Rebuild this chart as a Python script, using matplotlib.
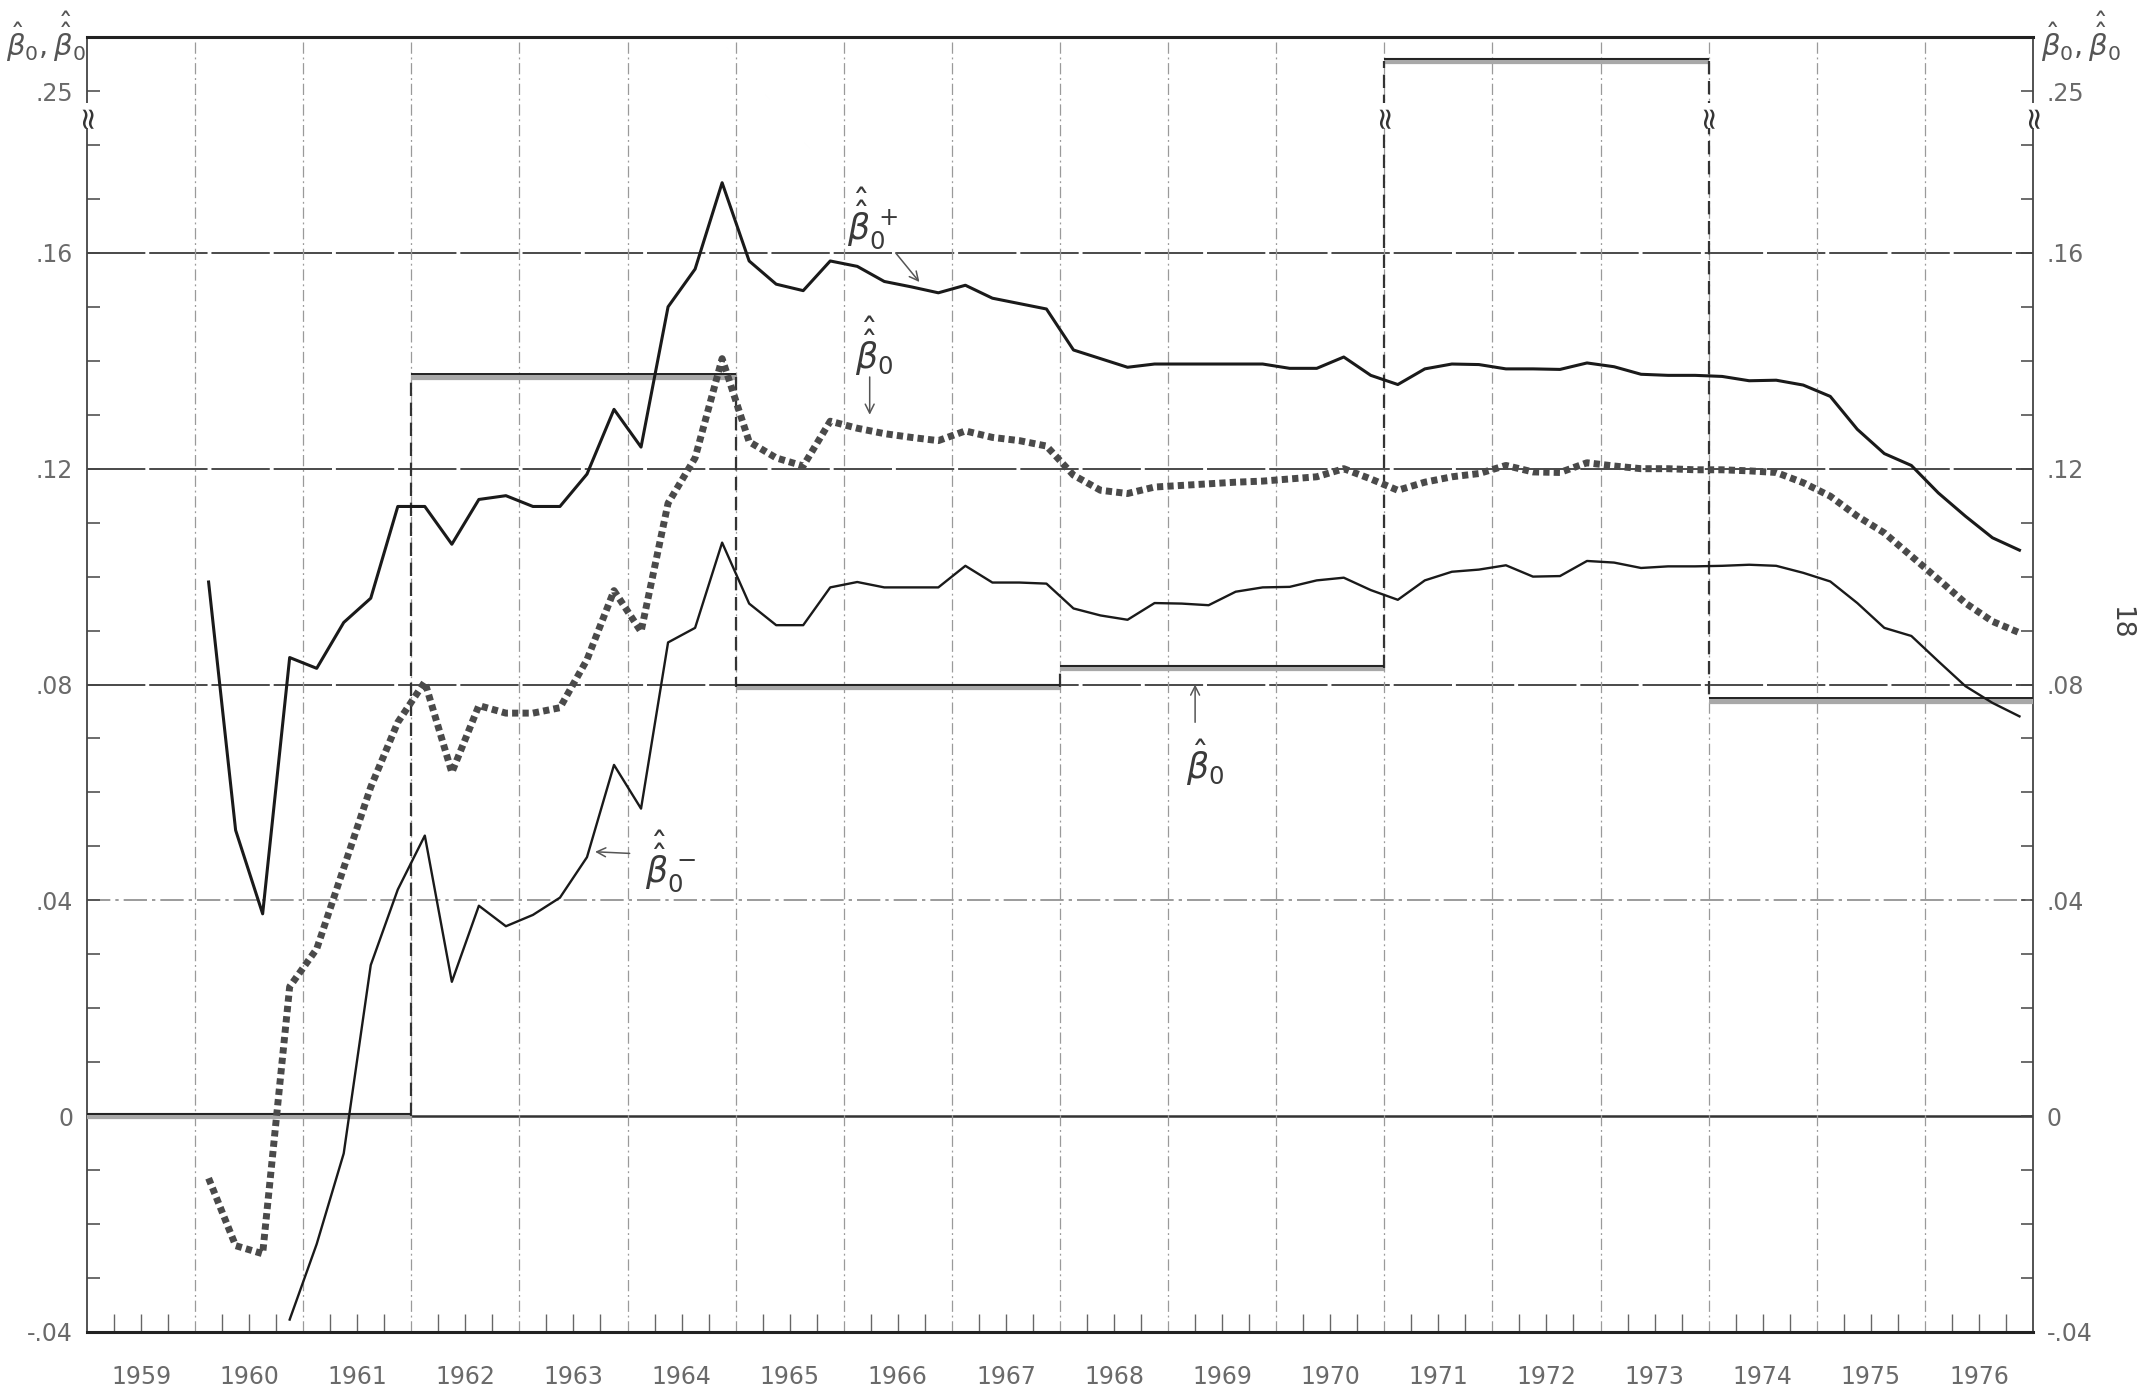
import numpy as np
import matplotlib
matplotlib.use("Agg")
import matplotlib.pyplot as plt
import matplotlib.transforms as mtransforms
from matplotlib.ticker import FixedLocator, NullFormatter

plt.rcParams['font.family'] = ['DejaVu Sans']
plt.rcParams['mathtext.fontset'] = 'dejavusans'

# ---------------- data ----------------
years = np.arange(1960, 1977)               # quarterly observations 1960Q1 .. 1976Q4
year_labels = [str(y) for y in range(1959, 1977)]

beta_plus = [0.099, 0.053, 0.0375, 0.085,
             0.083, 0.0915, 0.096, 0.113,
             0.113, 0.106, 0.1143, 0.115,
             0.113, 0.113, 0.119, 0.131,
             0.124, 0.150, 0.157, 0.173,
             0.1585, 0.1542, 0.153, 0.1585,
             0.1575, 0.1547, 0.1537, 0.1526,
             0.154, 0.1516, 0.1506, 0.1496,
             0.142, 0.1404, 0.1388, 0.1394,
             0.1394, 0.1394, 0.1394, 0.1394,
             0.1386, 0.1386, 0.1407, 0.1373,
             0.1356, 0.1385, 0.1394, 0.1393,
             0.1385, 0.1385, 0.1384, 0.1396,
             0.1389, 0.1375, 0.1373, 0.1373,
             0.1371, 0.1363, 0.1364, 0.1355,
             0.1334, 0.1273, 0.1228, 0.1206,
             0.1155, 0.1112, 0.1072, 0.1049]

beta_hh = [-0.0115, -0.024, -0.0255, 0.024,
           0.031, 0.046, 0.061, 0.073,
           0.0805, 0.0637, 0.0761, 0.0747,
           0.0747, 0.0757, 0.0846, 0.0974,
           0.0898, 0.1136, 0.122, 0.1404,
           0.125, 0.122, 0.1205, 0.1288,
           0.1275, 0.1265, 0.1258, 0.1252,
           0.127, 0.1258, 0.1252, 0.1242,
           0.1188, 0.116, 0.1154, 0.1166,
           0.1169, 0.1172, 0.1175, 0.1177,
           0.1181, 0.1185, 0.120, 0.1181,
           0.116, 0.1175, 0.1185, 0.1191,
           0.1206, 0.1194, 0.1193, 0.1211,
           0.1205, 0.120, 0.120, 0.1198,
           0.1198, 0.1196, 0.1193, 0.1174,
           0.1149, 0.1112, 0.1081, 0.1038,
           0.0995, 0.0951, 0.0917, 0.0896]

beta_minus = [np.nan, np.nan, np.nan, -0.0377,
              -0.0237, -0.0069, 0.028, 0.042,
              0.052, 0.0249, 0.039, 0.0352,
              0.0373, 0.0405, 0.048, 0.0651,
              0.057, 0.0878, 0.0905, 0.1063,
              0.095, 0.091, 0.091, 0.098,
              0.099, 0.098, 0.098, 0.098,
              0.102, 0.0989, 0.0989, 0.0987,
              0.0941, 0.0928, 0.092, 0.0951,
              0.095, 0.0947, 0.0972, 0.098,
              0.0981, 0.0993, 0.0998, 0.0975,
              0.0957, 0.0993, 0.1009, 0.1013,
              0.1021, 0.100, 0.1001, 0.1029,
              0.1026, 0.1016, 0.1019, 0.1019,
              0.102, 0.1022, 0.102, 0.1007,
              0.0991, 0.0951, 0.0905, 0.089,
              0.0843, 0.0797, 0.0766, 0.0741]

step_start = [1959, 1962, 1965, 1968, 1971, 1974]
step_end = [1962, 1965, 1968, 1971, 1974, 1977]
step_val = [0.0, 0.137, 0.0795, 0.083, 0.261, 0.077]   # 1971-73 value lies beyond the axis break

ytick_vals = [-0.04, 0.0, 0.04, 0.08, 0.12, 0.16, 0.25]
ytick_text = ['-.04', '0', '.04', '.08', '.12', '.16', '.25']
break_val = 0.218

t = (years[:, None] + (np.arange(4) + 0.5) / 4.0).ravel()

# ---------------- broken y scale ----------------
def fwd(v):
    v = np.asarray(v, dtype=float)
    return np.where(v <= 0.18, v,
                    np.where(v <= 0.25, 0.18 + (v - 0.18) / 7.0, 0.19 + (v - 0.25) * 0.5))

def inv(u):
    u = np.asarray(u, dtype=float)
    return np.where(u <= 0.18, u,
                    np.where(u <= 0.19, 0.18 + (u - 0.18) * 7.0, 0.25 + (u - 0.19) * 2.0))

# ---------------- figure ----------------
fig = plt.figure(figsize=(21.42, 13.93), dpi=100)
ax = fig.add_axes([0.0406, 0.0438, 0.9085, 0.9296])
ax.set_yscale('function', functions=(fwd, inv))
ax.set_xlim(1959, 1977)
ax.set_ylim(-0.04, 0.27)

tick_col = '#6a6a6a'
# horizontal grid
for v in ytick_vals[1:6]:
    if v == 0:
        ax.axhline(v, color='#333333', lw=1.8, zorder=1)
    elif v == 0.04:
        ax.axhline(v, color='#8a8a8a', lw=1.2, dashes=(14, 3, 2, 3), zorder=1)
    else:
        ax.axhline(v, color='#4a4a4a', lw=1.4, dashes=(30, 2), zorder=1)
# vertical grid at year boundaries
for yb in range(1960, 1977):
    ax.axvline(yb, color='#9a9a9a', lw=0.9, dashes=(9, 3, 1.5, 3), zorder=1)

# step function (beta-hat): double line
off = mtransforms.offset_copy(ax.transData, fig=fig, x=0, y=1.8, units='points')
ax.hlines(step_val, step_start, step_end, color='#a8a8a8', lw=4.5, zorder=3)
ax.hlines(step_val, step_start, step_end, color='#222222', lw=1.4, zorder=4, transform=off)
ax.vlines(step_start[1:], step_val[:-1], step_val[1:], color='#333333', lw=1.6,
          linestyles=(0, (6, 3)), zorder=3)

# series
ax.plot(t, beta_hh, color='#4a4a4a', lw=5.0, linestyle=(0, (0.9, 0.6)), zorder=5,
        solid_joinstyle='miter')
ax.plot(t, beta_plus, color='#1a1a1a', lw=2.2, zorder=6)
ax.plot(t, beta_minus, color='#1a1a1a', lw=1.7, zorder=6)

# break marks
bt = mtransforms.blended_transform_factory(ax.transAxes, ax.transData)
brk_kw = dict(rotation=90, ha='center', va='center', fontsize=22, color='#333333',
              family='DejaVu Sans', zorder=8,
              bbox=dict(boxstyle='square,pad=0.0', fc='white', ec='none'))
for xa in [0.0, 1.0]:
    ax.text(xa, break_val, '≈', transform=bt, **brk_kw)
for xb in [1971, 1974]:
    ax.text(xb, break_val, '≈', **brk_kw)

# ticks
ax.yaxis.set_major_locator(FixedLocator(ytick_vals))
ax.set_yticklabels(ytick_text)
minor_y = [v / 100.0 for v in range(-3, 19) if v % 4 != 0]
ax.yaxis.set_minor_locator(FixedLocator(minor_y))
ax.yaxis.set_minor_formatter(NullFormatter())
ax.tick_params(axis='y', which='both', direction='in', left=True, right=True,
               labelleft=True, labelright=True, length=9, width=1.1, color='#444444',
               labelsize=17, labelcolor=tick_col, pad=10)

ax.xaxis.set_major_locator(FixedLocator([y + 0.5 for y in range(1959, 1977)]))
ax.set_xticklabels(year_labels)
ax.xaxis.set_minor_locator(FixedLocator([y + q for y in range(1959, 1977) for q in (0.25, 0.75)]))
ax.xaxis.set_minor_formatter(NullFormatter())
ax.tick_params(axis='x', which='both', direction='in', length=13, width=1.0,
               color='#666666', labelsize=17, labelcolor=tick_col, pad=24)

for side in ['top', 'bottom']:
    ax.spines[side].set_color('#222222')
    ax.spines[side].set_linewidth(2.2)
for side in ['left', 'right']:
    ax.spines[side].set_color('#444444')
    ax.spines[side].set_linewidth(1.3)

# annotations
lab_kw = dict(color='#3a3a3a', fontsize=25, ha='center', va='center', zorder=9)
arr_kw = dict(arrowstyle='->', color='#555555', lw=1.1, shrinkA=0, shrinkB=0,
              mutation_scale=16)
ax.text(1966.27, 0.1665, r'$\hat{\hat{\beta}}_0^{\,+}$', **lab_kw)
ax.annotate('', xy=(1966.70, 0.1546), xytext=(1966.48, 0.1600), arrowprops=arr_kw, zorder=9)
ax.text(1966.28, 0.1428, r'$\hat{\hat{\beta}}_0$', **lab_kw)
ax.annotate('', xy=(1966.24, 0.1300), xytext=(1966.24, 0.1370), arrowprops=arr_kw, zorder=9)
ax.text(1964.40, 0.0472, r'$\hat{\hat{\beta}}_0^{\,-}$', **lab_kw)
ax.annotate('', xy=(1963.70, 0.0490), xytext=(1964.02, 0.0487), arrowprops=arr_kw, zorder=9)
ax.text(1969.34, 0.0655, r'$\hat{\beta}_0$', **lab_kw)
ax.annotate('', xy=(1969.25, 0.0800), xytext=(1969.25, 0.0730), arrowprops=arr_kw, zorder=9)

# axis titles and page number
fig.text(0.003, 0.993, r'$\hat{\beta}_0,\hat{\hat{\beta}}_0$', ha='left', va='top',
         fontsize=21, color='#555555')
fig.text(0.953, 0.993, r'$\hat{\beta}_0,\hat{\hat{\beta}}_0$', ha='left', va='top',
         fontsize=21, color='#555555')
fig.text(0.990, 0.553, '18', rotation=-90, ha='center', va='center', fontsize=19,
         color='#444444')

fig.savefig('out.png', dpi=100, facecolor='white')
